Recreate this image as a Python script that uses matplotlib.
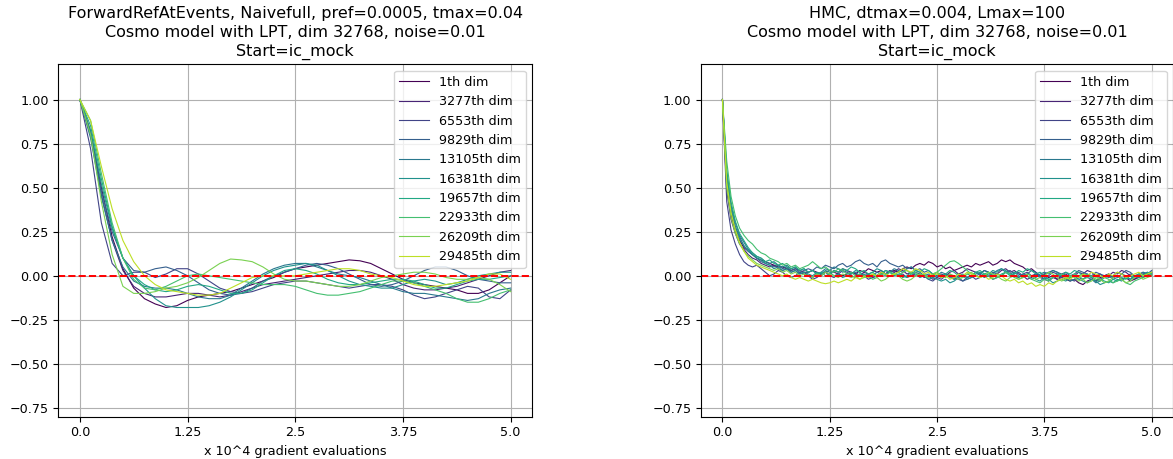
import matplotlib
matplotlib.use("Agg")
import matplotlib.pyplot as plt
import numpy as np

plt.rcParams["font.size"] = 9.2

# sample grids (x 10^4 gradient evaluations)
x_left = np.linspace(0, 5, 41)
x_right = np.linspace(0, 5, 101)

dims = [1, 3277, 6553, 9829, 13105, 16381, 19657, 22933, 26209, 29485]
labels = [f"{d}th dim" for d in dims]

# left panel: ForwardRefAtEvents autocorrelation, one row per dimension
acf_left = [
    [1.0, 0.82, 0.5, 0.22, 0.04, -0.07, -0.13, -0.16, -0.18, -0.17, -0.14, -0.12, -0.11, -0.1, -0.09, -0.07, -0.05, -0.03, -0.01, 0.02, 0.04,
     0.05, 0.06, 0.07, 0.08, 0.09, 0.085, 0.07, 0.04, 0.01, -0.02, -0.04, -0.05, -0.06, -0.07, -0.08, -0.1, -0.1, -0.08, -0.04, 0.0],
    [1.0, 0.8, 0.46, 0.2, 0.03, -0.06, -0.1, -0.12, -0.12, -0.11, -0.1, -0.1, -0.11, -0.12, -0.11, -0.09, -0.07, -0.05, -0.04, -0.03, -0.02,
     -0.01, 0.0, 0.01, 0.02, 0.03, 0.03, 0.02, 0.0, -0.02, -0.05, -0.07, -0.08, -0.08, -0.07, -0.06, -0.04, -0.02, 0.0, 0.02, 0.03],
    [1.0, 0.72, 0.3, 0.07, 0.0, 0.02, 0.02, -0.01, 0.01, 0.04, 0.04, 0.01, -0.03, -0.07, -0.09, -0.1, -0.09, -0.07, -0.05, -0.04, -0.03,
     -0.03, -0.04, -0.05, -0.06, -0.07, -0.06, -0.05, -0.05, -0.06, -0.08, -0.11, -0.13, -0.12, -0.1, -0.08, -0.06, -0.07, -0.12, -0.13, -0.08],
    [1.0, 0.8, 0.48, 0.25, 0.1, 0.03, 0.02, 0.04, 0.05, 0.03, 0.0, -0.04, -0.08, -0.1, -0.11, -0.1, -0.07, -0.03, 0.0, 0.02, 0.04,
     0.06, 0.07, 0.06, 0.04, 0.01, -0.02, -0.05, -0.06, -0.05, -0.03, 0.0, 0.03, 0.05, 0.05, 0.03, 0.0, -0.02, -0.03, -0.04, -0.04],
    [1.0, 0.78, 0.45, 0.2, 0.05, -0.03, -0.06, -0.07, -0.07, -0.08, -0.1, -0.12, -0.13, -0.13, -0.11, -0.07, -0.03, 0.01, 0.04, 0.06, 0.07,
     0.07, 0.05, 0.03, 0.01, 0.0, -0.01, -0.03, -0.05, -0.07, -0.09, -0.1, -0.1, -0.11, -0.12, -0.13, -0.14, -0.13, -0.1, -0.08, -0.07],
    [1.0, 0.82, 0.52, 0.27, 0.1, 0.0, -0.07, -0.13, -0.17, -0.18, -0.18, -0.18, -0.17, -0.15, -0.12, -0.08, -0.04, 0.0, 0.03, 0.05, 0.06,
     0.07, 0.06, 0.03, 0.0, -0.03, -0.05, -0.06, -0.07, -0.07, -0.05, -0.03, -0.02, -0.03, -0.05, -0.04, -0.02, 0.0, 0.01, 0.02, 0.02],
    [1.0, 0.85, 0.55, 0.28, 0.1, 0.0, -0.05, -0.08, -0.09, -0.08, -0.06, -0.05, -0.06, -0.08, -0.1, -0.1, -0.08, -0.04, 0.0, 0.03, 0.04,
     0.03, 0.01, -0.02, -0.04, -0.05, -0.05, -0.04, -0.03, -0.02, -0.02, -0.03, -0.05, -0.07, -0.07, -0.05, -0.03, -0.02, -0.02, -0.01, 0.0],
    [1.0, 0.88, 0.58, 0.3, 0.1, -0.02, -0.07, -0.08, -0.06, -0.03, 0.0, 0.01, 0.0, -0.01, -0.02, -0.03, -0.04, -0.05, -0.05, -0.05, -0.06,
     -0.08, -0.1, -0.11, -0.11, -0.1, -0.09, -0.07, -0.05, -0.03, -0.03, -0.04, -0.06, -0.08, -0.1, -0.13, -0.15, -0.15, -0.13, -0.1, -0.08],
    [1.0, 0.8, 0.42, 0.12, -0.06, -0.1, -0.1, -0.09, -0.07, -0.06, -0.04, -0.01, 0.03, 0.07, 0.095, 0.09, 0.08, 0.05, 0.01, -0.02, -0.03,
     -0.03, -0.04, -0.05, -0.06, -0.06, -0.05, -0.03, -0.01, 0.0, 0.01, 0.02, 0.02, 0.01, -0.01, -0.02, -0.02, -0.01, -0.02, -0.05, -0.09],
    [1.0, 0.88, 0.62, 0.38, 0.2, 0.08, 0.0, -0.05, -0.08, -0.09, -0.1, -0.11, -0.11, -0.1, -0.07, -0.04, -0.01, 0.0, 0.0, 0.0, 0.0,
     0.01, 0.02, 0.03, 0.04, 0.04, 0.03, 0.01, 0.0, -0.01, -0.03, -0.05, -0.06, -0.06, -0.05, -0.04, -0.03, -0.01, 0.01, 0.01, -0.02],
]

# right panel: HMC autocorrelation
acf_right = [
    [1.0, 0.52, 0.35, 0.25, 0.2, 0.16, 0.14, 0.12, 0.1, 0.09,
     0.08, 0.07, 0.06, 0.05, 0.05, 0.04, 0.03, 0.04, 0.03, 0.02,
     0.02, 0.03, 0.02, 0.01, 0.02, 0.03, 0.02, 0.01, 0.0, 0.01,
     0.02, 0.01, 0.03, 0.02, 0.04, 0.03, 0.02, 0.03, 0.01, 0.02,
     0.03, 0.02, 0.04, 0.05, 0.04, 0.06, 0.07, 0.06, 0.08, 0.07,
     0.05, 0.06, 0.04, 0.05, 0.03, 0.04, 0.05, 0.06, 0.05, 0.07,
     0.06, 0.07, 0.08, 0.06, 0.07, 0.09, 0.08, 0.09, 0.07, 0.06,
     0.05, 0.03, 0.04, 0.02, 0.0, 0.01, -0.01, 0.0, -0.02, -0.01,
     -0.02, -0.03, -0.02, -0.04, -0.05, -0.03, -0.02, -0.03, -0.01, 0.0,
     0.01, -0.01, 0.0, -0.02, -0.01, -0.03, -0.02, 0.0, -0.01, 0.01, 0.01],
    [1.0, 0.48, 0.32, 0.24, 0.18, 0.15, 0.12, 0.1, 0.09, 0.07,
     0.06, 0.05, 0.06, 0.04, 0.03, 0.04, 0.02, 0.03, 0.01, 0.02,
     0.0, -0.01, 0.01, 0.0, 0.02, 0.01, 0.03, 0.02, 0.04, 0.03,
     0.02, 0.01, 0.0, 0.02, 0.01, -0.01, 0.0, 0.02, 0.01, 0.03,
     0.02, 0.04, 0.03, 0.01, 0.02, 0.0, 0.01, -0.01, 0.0, -0.02,
     -0.01, 0.01, 0.0, 0.02, 0.03, 0.01, 0.02, 0.04, 0.03, 0.02,
     0.01, 0.03, 0.02, 0.0, 0.01, 0.03, 0.04, 0.02, 0.03, 0.01,
     0.0, -0.02, -0.01, 0.01, 0.0, -0.02, -0.03, -0.01, -0.02, 0.0,
     0.01, -0.01, 0.0, 0.02, 0.01, 0.03, 0.02, 0.0, 0.01, -0.01,
     0.0, 0.02, 0.01, 0.03, 0.02, 0.0, -0.02, -0.01, 0.01, 0.0, 0.02],
    [1.0, 0.42, 0.26, 0.18, 0.12, 0.08, 0.06, 0.05, 0.06, 0.04,
     0.02, 0.0, 0.01, 0.03, 0.02, 0.0, -0.01, 0.0, 0.02, 0.01,
     0.0, -0.02, -0.01, 0.01, 0.02, 0.0, -0.01, 0.01, 0.03, 0.02,
     0.0, -0.01, 0.01, 0.0, -0.02, -0.01, 0.0, 0.02, 0.01, 0.03,
     0.02, 0.0, 0.01, -0.01, 0.0, 0.02, 0.01, 0.0, -0.02, -0.03,
     -0.01, -0.02, 0.0, 0.01, -0.01, -0.02, -0.03, -0.01, 0.0, -0.02,
     -0.01, 0.01, 0.0, -0.02, -0.01, 0.0, 0.02, 0.01, 0.0, -0.01,
     0.01, 0.02, 0.0, 0.01, -0.01, -0.02, 0.0, 0.02, 0.01, -0.01,
     0.0, -0.02, -0.03, -0.01, -0.02, 0.0, -0.01, -0.03, -0.02, 0.0,
     0.01, -0.01, 0.0, -0.02, -0.01, 0.01, 0.0, -0.01, 0.01, 0.02, 0.0],
    [1.0, 0.55, 0.38, 0.28, 0.22, 0.17, 0.14, 0.12, 0.1, 0.08,
     0.07, 0.06, 0.05, 0.06, 0.04, 0.05, 0.03, 0.04, 0.02, 0.03,
     0.04, 0.03, 0.05, 0.04, 0.06, 0.05, 0.04, 0.06, 0.07, 0.05,
     0.06, 0.08, 0.09, 0.07, 0.06, 0.07, 0.05, 0.08, 0.09, 0.07,
     0.06, 0.05, 0.06, 0.04, 0.05, 0.03, 0.04, 0.02, 0.03, 0.01,
     0.0, -0.01, 0.01, 0.0, -0.02, -0.01, -0.03, -0.02, -0.01, 0.0,
     0.01, -0.01, 0.0, 0.02, 0.01, 0.0, 0.02, 0.03, 0.01, 0.02,
     0.0, 0.01, 0.03, 0.02, 0.0, 0.01, 0.02, 0.03, 0.02, 0.01,
     0.02, 0.0, 0.01, 0.03, 0.02, 0.01, 0.0, 0.02, 0.01, 0.0,
     -0.01, 0.0, 0.02, 0.01, 0.03, 0.02, 0.0, 0.01, 0.02, 0.01, 0.03],
    [1.0, 0.58, 0.4, 0.3, 0.23, 0.19, 0.15, 0.13, 0.11, 0.1,
     0.08, 0.07, 0.08, 0.06, 0.05, 0.06, 0.04, 0.05, 0.03, 0.04,
     0.02, 0.03, 0.01, 0.02, 0.04, 0.03, 0.05, 0.04, 0.02, 0.03,
     0.01, 0.02, 0.0, 0.01, -0.01, 0.0, 0.02, 0.01, 0.03, 0.02,
     0.04, 0.03, 0.02, 0.04, 0.05, 0.03, 0.02, 0.0, 0.01, -0.01,
     0.0, 0.02, 0.01, -0.01, -0.02, 0.0, 0.01, -0.01, 0.0, 0.02,
     0.01, 0.03, 0.02, 0.01, 0.03, 0.04, 0.02, 0.01, 0.0, -0.01,
     0.01, 0.0, -0.02, -0.01, 0.01, 0.02, 0.01, 0.03, 0.02, 0.0,
     -0.01, -0.03, -0.02, 0.0, 0.01, -0.01, -0.02, -0.04, -0.03, -0.01,
     0.0, -0.02, -0.01, 0.01, 0.0, -0.02, -0.01, 0.0, 0.02, 0.01, 0.02],
    [1.0, 0.56, 0.38, 0.27, 0.21, 0.17, 0.14, 0.12, 0.1, 0.09,
     0.07, 0.06, 0.04, 0.05, 0.03, 0.04, 0.02, 0.03, 0.01, 0.02,
     0.01, 0.0, 0.02, 0.01, 0.03, 0.02, 0.0, 0.01, -0.01, 0.0,
     0.01, 0.03, 0.02, 0.0, 0.01, 0.02, 0.04, 0.03, 0.01, 0.02,
     0.0, 0.01, -0.01, 0.0, 0.02, 0.01, -0.01, 0.0, -0.02, -0.01,
     -0.02, -0.03, -0.02, -0.04, -0.03, -0.01, 0.0, -0.02, -0.01, 0.01,
     0.02, 0.0, 0.01, 0.03, 0.02, 0.04, 0.03, 0.01, 0.02, 0.0,
     -0.01, 0.01, 0.0, -0.02, -0.03, -0.01, -0.02, -0.04, -0.03, -0.02,
     -0.03, -0.01, 0.0, -0.02, -0.03, -0.04, -0.02, -0.03, -0.05, -0.04,
     -0.03, -0.04, -0.02, -0.03, -0.01, -0.02, 0.0, -0.01, 0.01, 0.0, 0.01],
    [1.0, 0.6, 0.42, 0.31, 0.24, 0.2, 0.16, 0.13, 0.11, 0.1,
     0.08, 0.09, 0.07, 0.06, 0.07, 0.05, 0.04, 0.05, 0.03, 0.04,
     0.02, 0.03, 0.01, 0.02, 0.0, 0.01, 0.03, 0.02, 0.04, 0.03,
     0.05, 0.04, 0.02, 0.03, 0.01, 0.02, 0.0, 0.01, 0.03, 0.02,
     0.01, 0.02, 0.0, -0.01, 0.01, 0.03, 0.02, 0.04, 0.03, 0.01,
     0.02, 0.0, 0.01, 0.03, 0.02, 0.0, -0.01, 0.01, 0.0, 0.02,
     0.03, 0.01, 0.02, 0.0, -0.01, 0.01, 0.02, 0.0, 0.01, 0.03,
     0.02, 0.04, 0.03, 0.01, 0.02, 0.0, -0.02, -0.01, 0.01, 0.0,
     0.02, 0.01, 0.03, 0.02, 0.0, 0.01, -0.01, 0.0, -0.02, -0.03,
     -0.04, -0.02, -0.03, -0.01, -0.02, 0.0, -0.01, 0.01, 0.0, 0.02, 0.01],
    [1.0, 0.65, 0.45, 0.34, 0.27, 0.23, 0.2, 0.18, 0.15, 0.13,
     0.12, 0.1, 0.09, 0.08, 0.06, 0.07, 0.05, 0.06, 0.04, 0.05,
     0.06, 0.08, 0.06, 0.04, 0.05, 0.03, 0.02, 0.04, 0.03, 0.01,
     0.02, 0.0, 0.01, -0.01, 0.0, -0.02, -0.01, 0.01, 0.0, 0.02,
     0.01, 0.0, 0.02, 0.03, 0.01, 0.02, 0.0, 0.01, -0.01, 0.0,
     0.02, 0.04, 0.06, 0.08, 0.085, 0.07, 0.05, 0.03, 0.01, 0.0,
     -0.01, 0.01, 0.0, -0.02, -0.01, 0.0, 0.02, 0.01, -0.01, -0.02,
     -0.01, 0.0, -0.02, -0.03, -0.04, -0.02, -0.03, -0.01, 0.0, 0.01,
     0.0, -0.01, 0.01, 0.0, -0.02, -0.01, 0.0, -0.02, -0.03, -0.01,
     -0.02, -0.04, -0.03, -0.02, -0.04, -0.05, -0.03, -0.02, -0.01, 0.0, 0.01],
    [1.0, 0.5, 0.33, 0.24, 0.18, 0.14, 0.11, 0.09, 0.07, 0.06,
     0.05, 0.04, 0.03, 0.04, 0.02, 0.03, 0.01, 0.02, 0.0, 0.01,
     0.0, -0.01, 0.01, 0.0, 0.02, 0.01, 0.0, -0.01, 0.01, 0.0,
     -0.01, 0.0, -0.02, -0.01, 0.0, 0.01, -0.01, -0.03, -0.02, 0.0,
     0.01, 0.0, -0.02, -0.03, -0.02, 0.0, 0.01, 0.0, -0.01, 0.01,
     0.02, 0.0, -0.01, 0.01, 0.0, -0.02, -0.01, 0.01, 0.02, 0.0,
     -0.01, 0.0, 0.02, 0.01, 0.0, -0.02, -0.03, -0.01, 0.0, -0.02,
     -0.01, 0.01, 0.0, -0.02, -0.01, 0.0, 0.02, 0.01, -0.01, -0.03,
     -0.02, 0.0, -0.01, -0.03, -0.02, -0.04, -0.03, -0.01, -0.02, -0.04,
     -0.03, -0.01, 0.0, -0.02, -0.04, -0.03, -0.01, 0.0, -0.02, -0.01, 0.0],
    [1.0, 0.53, 0.36, 0.26, 0.19, 0.14, 0.1, 0.08, 0.06, 0.05,
     0.04, 0.03, 0.02, 0.01, 0.0, 0.01, -0.01, -0.02, -0.01, -0.02,
     -0.03, -0.02, -0.03, -0.04, -0.045, -0.04, -0.03, -0.04, -0.03, -0.02,
     -0.03, -0.01, -0.02, 0.0, -0.01, 0.01, 0.0, 0.02, 0.01, 0.0,
     0.01, 0.02, 0.04, 0.03, 0.02, 0.04, 0.03, 0.01, 0.02, 0.0,
     0.01, -0.01, 0.0, -0.02, -0.01, 0.01, 0.0, 0.02, 0.01, 0.0,
     -0.01, 0.0, -0.02, -0.01, 0.01, 0.0, -0.02, -0.03, -0.02, -0.04,
     -0.03, -0.05, -0.04, -0.06, -0.05, -0.06, -0.04, -0.05, -0.03, -0.02,
     -0.01, -0.02, 0.0, -0.01, 0.01, 0.0, 0.02, 0.01, 0.0, -0.01,
     0.01, 0.0, 0.02, 0.01, -0.01, 0.0, 0.01, 0.02, 0.0, 0.01, 0.02],
]

titles = [
    "ForwardRefAtEvents, Naivefull, pref=0.0005, tmax=0.04\n"
    "Cosmo model with LPT, dim 32768, noise=0.01\nStart=ic_mock",
    "HMC, dtmax=0.004, Lmax=100\n"
    "Cosmo model with LPT, dim 32768, noise=0.01\nStart=ic_mock",
]

xticks = [0, 1.25, 2.5, 3.75, 5.0]
xtick_labels = ["0.0", "1.25", "2.5", "3.75", "5.0"]
yticks = [-0.75, -0.5, -0.25, 0.0, 0.25, 0.5, 0.75, 1.0]

colors = plt.cm.viridis(np.arange(10) / 10)

fig = plt.figure(figsize=(11.73, 4.59), dpi=100)
ax_left = fig.add_axes([0.0497, 0.092, 0.404, 0.768])
ax_right = fig.add_axes([0.5976, 0.092, 0.4025, 0.768])

for ax, x, rows, title in [(ax_left, x_left, acf_left, titles[0]),
                           (ax_right, x_right, acf_right, titles[1])]:
    for row, color, label in zip(rows, colors, labels):
        ax.plot(x, row, color=color, lw=0.8, label=label)
    ax.axhline(0, color="r", linestyle="--", lw=1.4)
    ax.set_xlim(-0.25, 5.25)
    ax.set_ylim(-0.8, 1.2)
    ax.set_xticks(xticks)
    ax.set_xticklabels(xtick_labels)
    ax.set_yticks(yticks)
    ax.grid(True)
    ax.set_title(title, fontsize=11.5, pad=6, linespacing=1.35)
    ax.set_xlabel("x 10^4 gradient evaluations", labelpad=4)
    ax.legend(loc="upper right", handlelength=2.3)

fig.savefig("out.png", dpi=100)
